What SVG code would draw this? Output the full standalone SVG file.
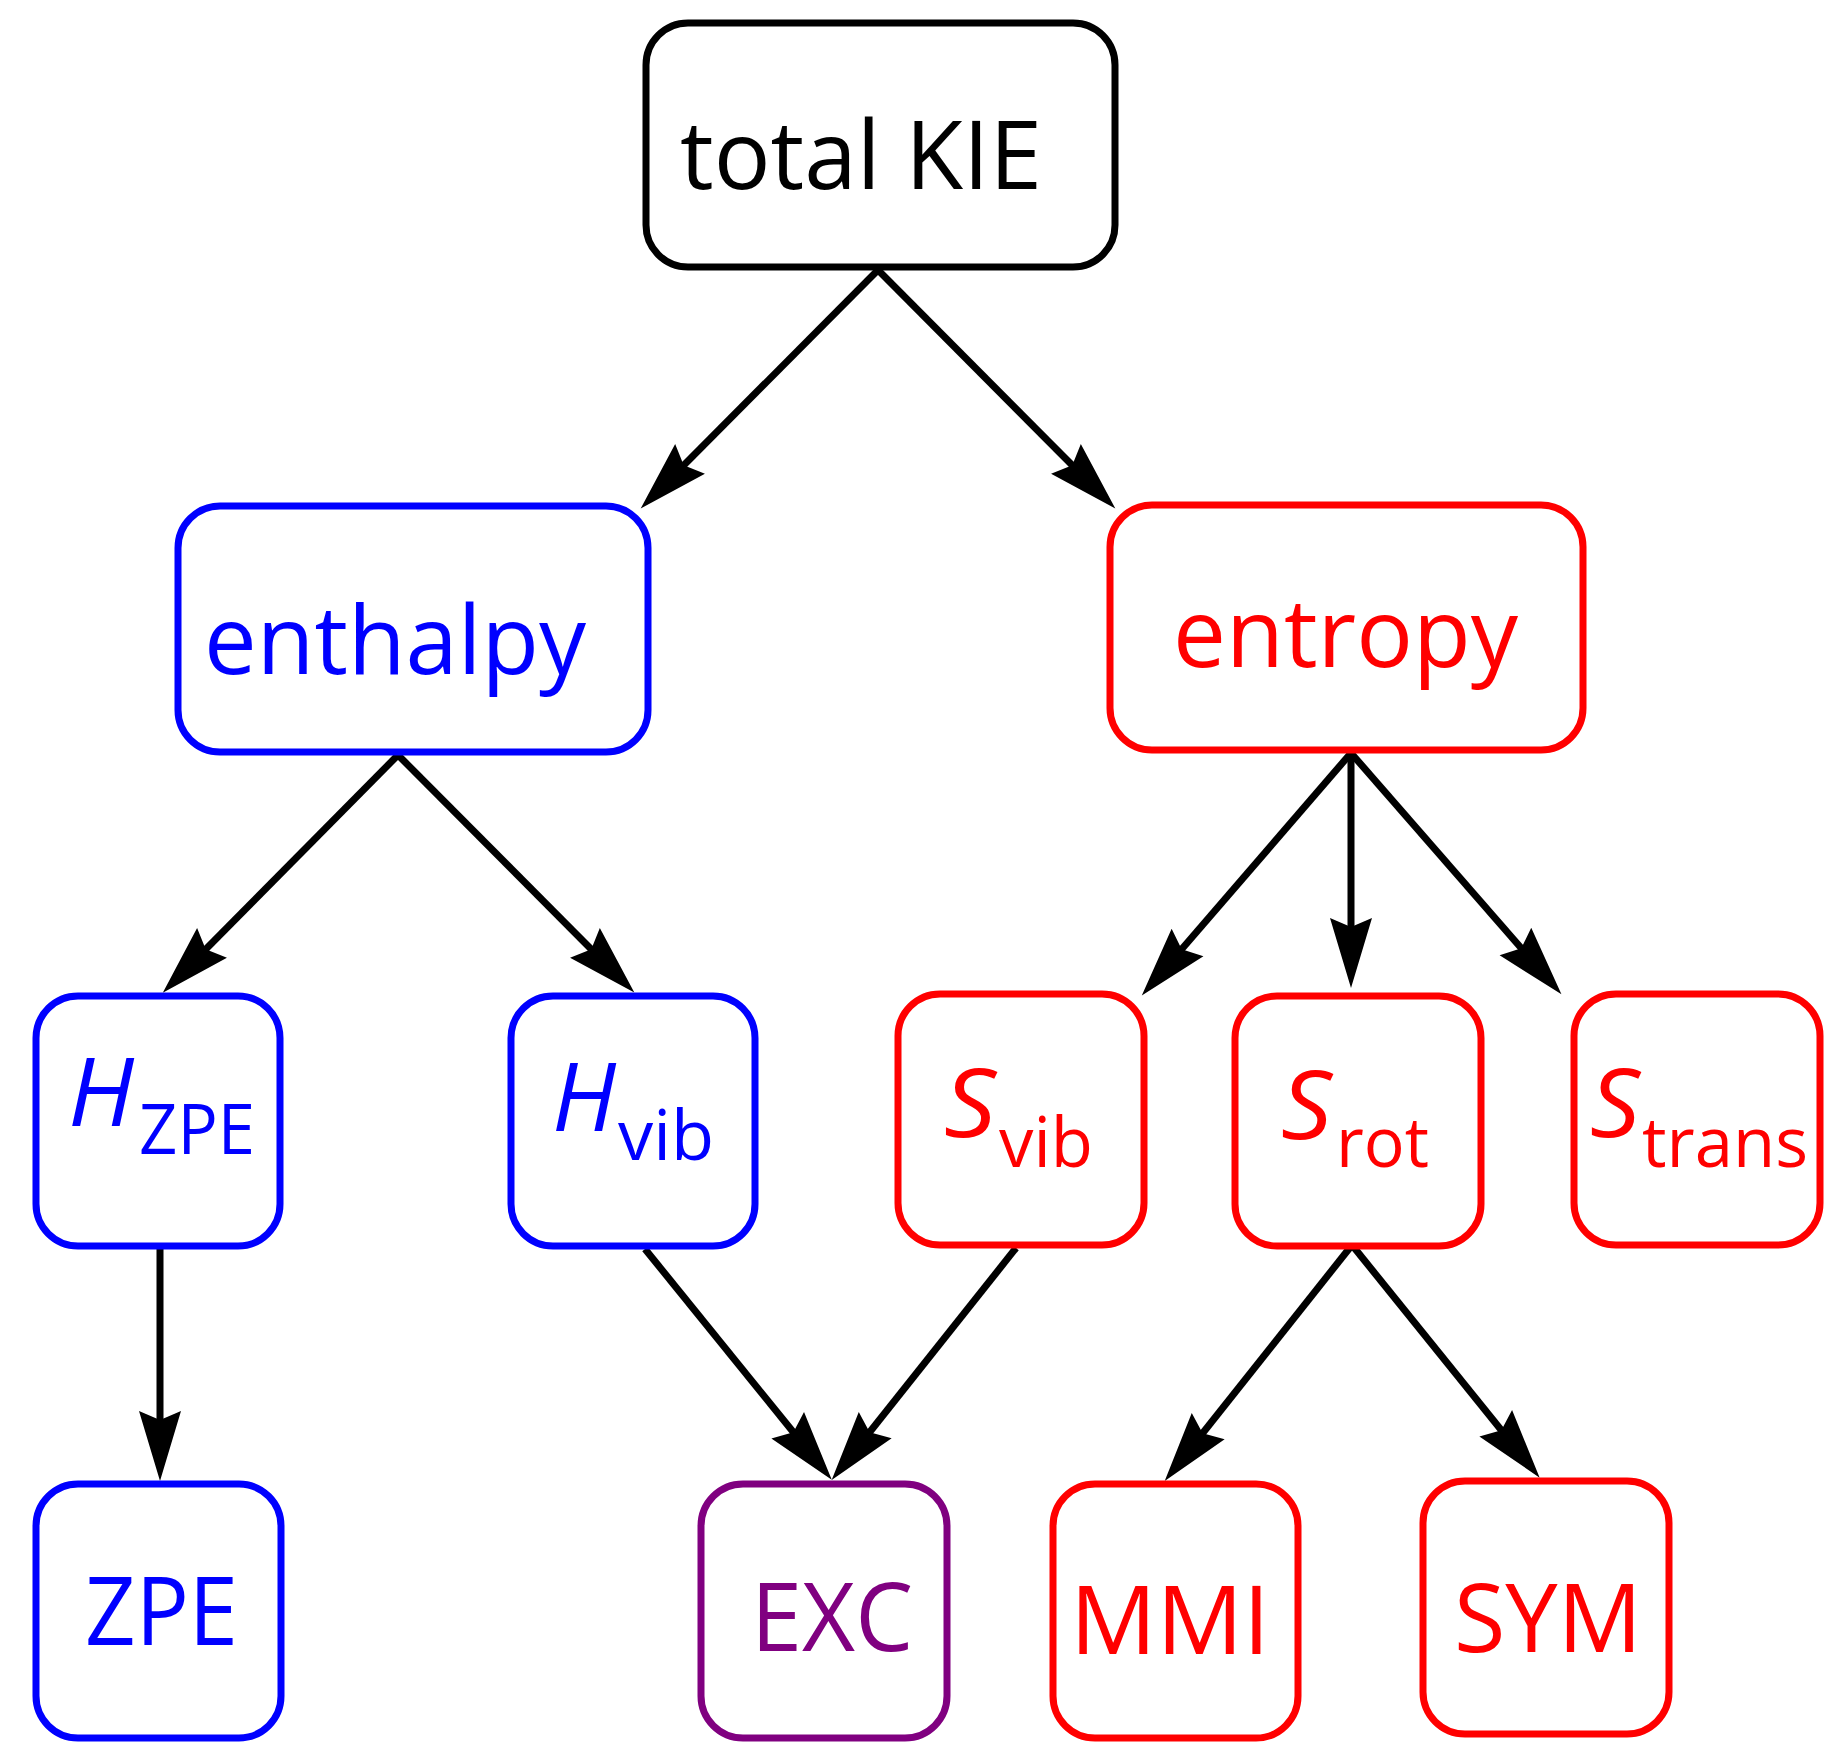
<svg xmlns="http://www.w3.org/2000/svg" width="1848" height="1753" viewBox="0 0 1848 1753">
<style>
.box{fill:#fff;stroke-width:7}
.k{stroke:#000}.b{stroke:#0000ff}.r{stroke:#ff0000}.p{stroke:#800080}
text{font-family:"Open Sans","Noto Sans","Liberation Sans",sans-serif;font-size:96px}
.tk{fill:#000}.tb{fill:#0000ff}.tr{fill:#ff0000}.tp{fill:#800080}
.it{font-style:italic}
.sub{font-size:70px}
.c{stroke:#000;stroke-width:7;fill:none;marker-end:url(#ah)}
</style>
<defs>
<marker id="ah" markerUnits="userSpaceOnUse" markerWidth="72" markerHeight="44" refX="10" refY="22" orient="auto" overflow="visible">
<path d="M70,22 L0,1 L9,22 L0,43 Z" fill="#000"/>
</marker>
</defs>
<g id="connectors">
<line class="c" x1="878" y1="270" x2="683" y2="466"/>
<line class="c" x1="878" y1="270" x2="1073" y2="466"/>
<line class="c" x1="398" y1="755" x2="205" y2="950"/>
<line class="c" x1="398" y1="755" x2="592" y2="950"/>
<line class="c" x1="1351" y1="753" x2="1181" y2="950"/>
<line class="c" x1="1351" y1="753" x2="1351" y2="928"/>
<line class="c" x1="1351" y1="753" x2="1522" y2="949"/>
<line class="c" x1="160" y1="1249" x2="160" y2="1421"/>
<line class="c" x1="645" y1="1249" x2="794" y2="1433"/>
<line class="c" x1="1016" y1="1248" x2="869" y2="1433"/>
<line class="c" x1="1352" y1="1245" x2="1202" y2="1434"/>
<line class="c" x1="1352" y1="1245" x2="1502" y2="1431"/>
</g>
<g id="total-kie">
<rect class="box k" x="646" y="23" width="469" height="244" rx="42"/>
<text class="tk" x="680" y="189" textLength="362" lengthAdjust="spacingAndGlyphs">total KIE</text>
</g>
<g id="enthalpy">
<rect class="box b" x="178" y="506" width="470" height="246" rx="42"/>
<text class="tb" x="204" y="674" textLength="382" lengthAdjust="spacingAndGlyphs">enthalpy</text>
</g>
<g id="entropy">
<rect class="box r" x="1110" y="505" width="473" height="245" rx="42"/>
<text class="tr" x="1173" y="667" textLength="345" lengthAdjust="spacingAndGlyphs">entropy</text>
</g>
<g id="h-zpe">
<rect class="box b" x="36" y="996" width="244" height="250" rx="42"/>
<text class="tb it" x="68" y="1126" textLength="66" lengthAdjust="spacingAndGlyphs">H</text>
<text class="tb sub" x="139" y="1154" textLength="116" lengthAdjust="spacingAndGlyphs">ZPE</text>
</g>
<g id="h-vib">
<rect class="box b" x="511" y="996" width="244" height="250" rx="42"/>
<text class="tb it" x="552" y="1131" textLength="64" lengthAdjust="spacingAndGlyphs">H</text>
<text class="tb sub" x="618" y="1160" textLength="96" lengthAdjust="spacingAndGlyphs">vib</text>
</g>
<g id="s-vib">
<rect class="box r" x="898" y="994" width="246" height="251" rx="42"/>
<text class="tr it" x="944" y="1137" textLength="52" lengthAdjust="spacingAndGlyphs">S</text>
<text class="tr sub" x="999" y="1167" textLength="94" lengthAdjust="spacingAndGlyphs">vib</text>
</g>
<g id="s-rot">
<rect class="box r" x="1235" y="996" width="246" height="250" rx="42"/>
<text class="tr it" x="1281" y="1139" textLength="51" lengthAdjust="spacingAndGlyphs">S</text>
<text class="tr sub" x="1336" y="1167" textLength="93" lengthAdjust="spacingAndGlyphs">rot</text>
</g>
<g id="s-trans">
<rect class="box r" x="1574" y="994" width="246" height="251" rx="42"/>
<text class="tr it" x="1590" y="1137" textLength="50" lengthAdjust="spacingAndGlyphs">S</text>
<text class="tr sub" x="1642" y="1167" textLength="166" lengthAdjust="spacingAndGlyphs">trans</text>
</g>
<g id="zpe">
<rect class="box b" x="36" y="1484" width="245" height="254" rx="42"/>
<text class="tb" x="85" y="1645" textLength="153" lengthAdjust="spacingAndGlyphs">ZPE</text>
</g>
<g id="exc">
<rect class="box p" x="701" y="1484" width="246" height="254" rx="42"/>
<text class="tp" x="751" y="1651" textLength="162" lengthAdjust="spacingAndGlyphs">EXC</text>
</g>
<g id="mmi">
<rect class="box r" x="1053" y="1484" width="245" height="254" rx="42"/>
<text class="tr" x="1070" y="1654" textLength="200" lengthAdjust="spacingAndGlyphs">MMI</text>
</g>
<g id="sym">
<rect class="box r" x="1423" y="1481" width="246" height="253" rx="42"/>
<text class="tr" x="1454" y="1652" textLength="188" lengthAdjust="spacingAndGlyphs">SYM</text>
</g>
</svg>
